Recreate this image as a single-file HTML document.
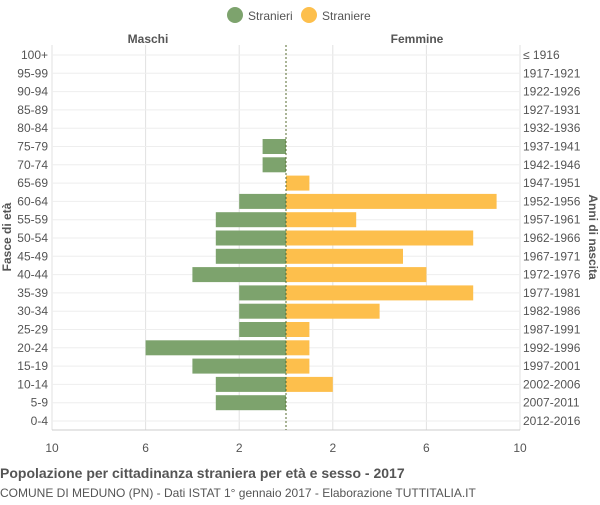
<!DOCTYPE html>
<html><head><meta charset="utf-8"><style>
body{margin:0;background:#fff;font-family:"Liberation Sans",sans-serif;}
svg text{font-family:"Liberation Sans",sans-serif;}
</style></head><body>
<svg id="c" width="600" height="500" xmlns="http://www.w3.org/2000/svg">
<g>
<circle cx="235" cy="15" r="8" fill="#7da36d"/>
<text x="248" y="20" font-size="12" fill="#555">Stranieri</text>
<circle cx="309" cy="15" r="8" fill="#fdbf4c"/>
<text x="322" y="20" font-size="12" fill="#555">Straniere</text>
</g>
<text x="148" y="43" font-size="12" font-weight="bold" fill="#555" text-anchor="middle">Maschi</text>
<text x="417" y="43" font-size="12" font-weight="bold" fill="#555" text-anchor="middle">Femmine</text>
<g id="grid"></g><g id="bars"></g><g id="labels"></g>
<text transform="translate(11,237) rotate(-90)" font-size="12" font-weight="bold" fill="#555" text-anchor="middle">Fasce di età</text>
<text transform="translate(589,237) rotate(90)" font-size="12" font-weight="bold" fill="#555" text-anchor="middle">Anni di nascita</text>
<text x="0" y="478" font-size="14" font-weight="bold" fill="#555">Popolazione per cittadinanza straniera per età e sesso - 2017</text>
<text x="0" y="497" font-size="12" fill="#555">COMUNE DI MEDUNO (PN) - Dati ISTAT 1° gennaio 2017 - Elaborazione TUTTITALIA.IT</text>
</svg>
<script>
const ages=["100+","95-99","90-94","85-89","80-84","75-79","70-74","65-69","60-64","55-59","50-54","45-49","40-44","35-39","30-34","25-29","20-24","15-19","10-14","5-9","0-4"];
const births=["≤ 1916","1917-1921","1922-1926","1927-1931","1932-1936","1937-1941","1942-1946","1947-1951","1952-1956","1957-1961","1962-1966","1967-1971","1972-1976","1977-1981","1982-1986","1987-1991","1992-1996","1997-2001","2002-2006","2007-2011","2012-2016"];
const males=[0,0,0,0,0,1,1,0,2,3,3,3,4,2,2,2,6,4,3,3,0];
const females=[0,0,0,0,0,0,0,1,9,3,8,5,6,8,4,1,1,1,2,0,0];
const xTicks=[10,6,2,2,6,10];
const NS="http://www.w3.org/2000/svg";
const cx=286,unit=23.4,y0=55,step=18.3,bh=15;
const xL=v=>cx-v*unit, xR=v=>cx+v*unit, yOf=i=>y0+i*step;
function mk(t,a,p){const e=document.createElementNS(NS,t);for(const k in a)e.setAttribute(k,a[k]);p.appendChild(e);return e;}
const g=document.getElementById('grid'),b=document.getElementById('bars'),l=document.getElementById('labels');
xTicks.forEach((t,i)=>{const x=i<3?xL(t):xR(t);
const ln=mk('line',{x1:x,x2:x,y1:45,y2:430,stroke:'#e2e2e2'},g);


const tx=mk('text',{x:x,y:452,'font-size':12,fill:'#555','text-anchor':'middle'},l);tx.textContent=t;

});
mk('line',{x1:52,x2:520,y1:430,y2:430,stroke:'#ccc'},g);
ages.forEach((a,i)=>{const yy=yOf(i);
const hl=mk('line',{x1:52,x2:520,y1:yy,y2:yy,stroke:'#eee'},g);


if(males[i]>0){const r=mk('rect',{x:xL(males[i]),y:yy-bh/2,width:males[i]*unit,height:bh,fill:'#7da36d'},b);

}
if(females[i]>0){const r=mk('rect',{x:cx,y:yy-bh/2,width:females[i]*unit,height:bh,fill:'#fdbf4c'},b);

}
const t1=mk('text',{x:48,y:yy+4,'font-size':12,fill:'#555','text-anchor':'end'},l);t1.textContent=a;


const t2=mk('text',{x:523,y:yy+4,'font-size':12,fill:'#555'},l);t2.textContent=births[i];

});
const c=mk('line',{x1:cx,x2:cx,y1:45,y2:430,stroke:'#556b2f','stroke-dasharray':'2,2'},b);


</script>
</body></html>
